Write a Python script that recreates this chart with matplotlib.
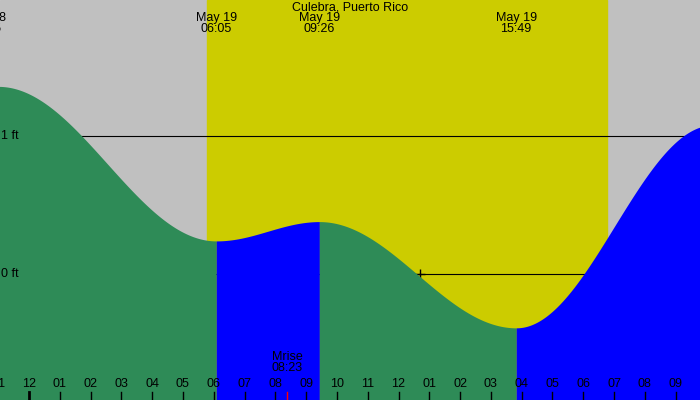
import numpy as np
import matplotlib
matplotlib.use("Agg")
import matplotlib.pyplot as plt
plt.rcParams['font.family'] = ['Liberation Sans', 'DejaVu Sans']

# tide extremes: hours from midnight May 19, height ft
ext_hours = [-1.0, 6.08, 9.43, 15.82, 22.2]
ext_heights = [1.36, 0.24, 0.38, -0.39, 1.08]
label_hours = [-1.4, 6.08, 9.43, 15.82]
label_texts = ["May 18\n23:55", "May 19\n06:05", "May 19\n09:26", "May 19\n15:49"]
sunrise, sunset = 5.77, 18.77
moonrise = 8.38
tick_hours = list(range(-1, 22))
tick_labels = ["%02d" % (((h - 1) % 12) + 1) for h in tick_hours]
tick_labels[0] = "11"

x0, x1 = -0.94, 21.79
y0, y1 = -0.913, 1.986

fig = plt.figure(figsize=(7, 4), dpi=100)
ax = fig.add_axes([0, 0, 1, 1])
ax.set_xlim(x0, x1); ax.set_ylim(y0, y1)
ax.axis("off")
ax.axvspan(x0, x1, color="#c0c0c0", zorder=0)
ax.axvspan(sunrise, sunset, color="#cccc00", zorder=1)
ax.axhline(1, color="black", lw=0.8, zorder=2)
ax.axhline(0, color="black", lw=0.8, zorder=2)
ax.plot([12.7], [0], marker="+", color="black", ms=7, zorder=2)

for i in range(len(ext_hours) - 1):
    ha, hb = ext_hours[i], ext_hours[i + 1]
    va, vb = ext_heights[i], ext_heights[i + 1]
    t = np.linspace(ha, hb, 200)
    v = va + (vb - va) * (1 - np.cos(np.pi * (t - ha) / (hb - ha))) / 2
    col = "#0000ff" if vb > va else "#2e8b57"
    ax.fill_between(t, y0, v, color=col, lw=0, zorder=3)

fs = 9
ax.text((x0 + x1) / 2, y1 - 0.01, "Culebra, Puerto Rico", ha="center", va="top", fontsize=fs, zorder=5)
for h, s in zip(label_hours, label_texts):
    ax.text(h, y1 - 0.085, s, ha="center", va="top", fontsize=fs, linespacing=0.95, zorder=5)
ax.text(x0 + 0.02, 1, "1 ft", ha="left", va="center", fontsize=fs, zorder=5)
ax.text(x0 + 0.02, 0, "0 ft", ha="left", va="center", fontsize=fs, zorder=5)
ax.text(moonrise, -0.64, "Mrise\n08:23", ha="center", va="center", fontsize=fs, linespacing=0.95, zorder=5)

for h, lab in zip(tick_hours, tick_labels):
    ax.text(h, -0.80, lab, ha="center", va="center", fontsize=fs, zorder=5)
    ax.plot([h, h], [y0, -0.855], color="black", lw=2 if h == 0 else 1, zorder=5)
ax.plot([moonrise, moonrise], [y0, -0.855], color="red", lw=1, zorder=5)

fig.savefig("out.png", dpi=100)
